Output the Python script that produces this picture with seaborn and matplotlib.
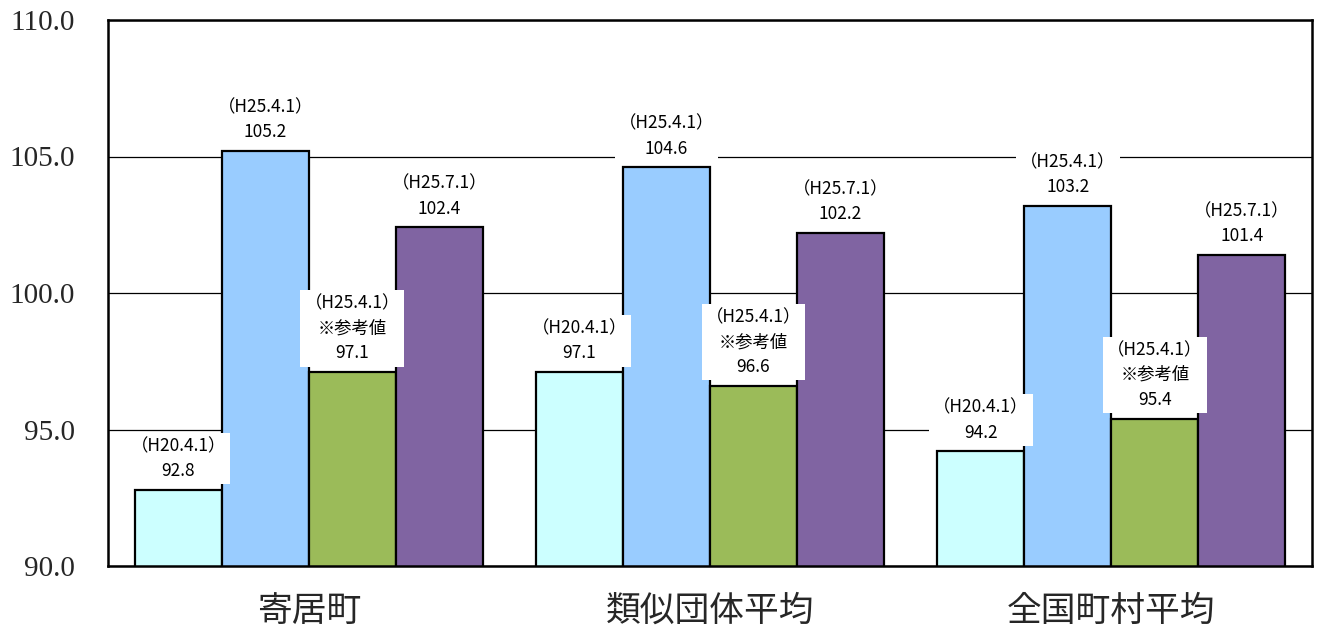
import matplotlib
matplotlib.use("Agg")
import matplotlib.pyplot as plt
import seaborn as sns
import pandas as pd

categories = ["寄居町", "類似団体平均", "全国町村平均"]
series = ["H20.4.1", "H25.4.1", "H25.4.1参考値", "H25.7.1"]
series_labels = ["（H20.4.1）", "（H25.4.1）", "（H25.4.1）\n※参考値", "（H25.7.1）"]
values = {
    "H20.4.1": [92.8, 97.1, 94.2],
    "H25.4.1": [105.2, 104.6, 103.2],
    "H25.4.1参考値": [97.1, 96.6, 95.4],
    "H25.7.1": [102.4, 102.2, 101.4],
}
colors = ["#CCFFFF", "#99CCFF", "#9BBB59", "#8064A2"]
yticks = [90.0, 95.0, 100.0, 105.0, 110.0]

rows = []
for s in series:
    for c, v in zip(categories, values[s]):
        rows.append({"category": c, "series": s, "value": v})
df = pd.DataFrame(rows)

sns.set_theme(style="white")
plt.rcParams['font.family'] = ['Noto Sans CJK JP', 'DejaVu Sans']

fig = plt.figure(figsize=(13.17, 6.29), dpi=100)
ax = fig.add_axes([108/1317, 1-566/629, (1312-108)/1317, (566-20)/629])

sns.barplot(data=df, x="category", y="value", hue="series", hue_order=series,
            order=categories, palette=colors, width=0.867, gap=0,
            edgecolor="black", linewidth=1.6, legend=False, ax=ax,
            saturation=1, zorder=2)

ax.set_ylim(90, 110)
ax.set_xlim(-0.5, 2.5)
ax.set_yticks(yticks)
ax.set_yticklabels([f"{t:.1f}" for t in yticks], family="Liberation Serif", fontsize=21)
ax.tick_params(axis="y", length=0, pad=24)
ax.tick_params(axis="x", length=0, pad=20)
for lbl in ax.get_xticklabels():
    lbl.set_fontsize(25)
    lbl.set_family(['Noto Sans CJK JP'])
ax.set_xlabel("")
ax.set_ylabel("")
for sp in ax.spines.values():
    sp.set_color("black")
    sp.set_linewidth(1.8)
ax.yaxis.grid(True, color="black", linewidth=0.9, zorder=0)
ax.set_axisbelow(True)

for cont, lab in zip(ax.containers, series_labels):
    for bar in cont:
        h = bar.get_height()
        x = bar.get_x() + bar.get_width() / 2
        ax.annotate(f"{lab}\n{h:.1f}", xy=(x, h), xytext=(0, 7),
                    textcoords="offset points", ha="center", va="bottom",
                    fontsize=12.5, linespacing=1.5, color="black",
                    bbox=dict(facecolor="white", edgecolor="none", pad=3),
                    zorder=5)

fig.savefig("out.png", dpi=100)
